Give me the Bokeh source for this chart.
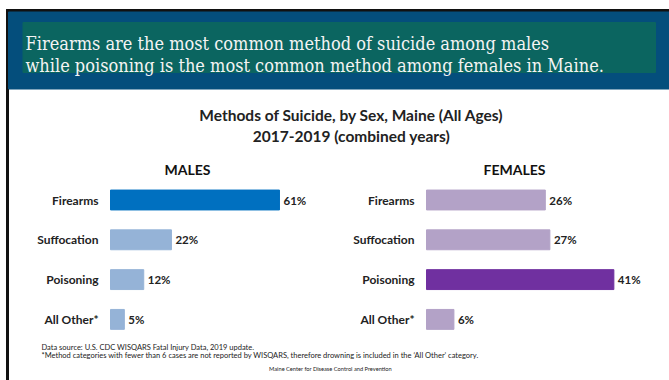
from bokeh.plotting import figure
from bokeh.models import Range1d, ColumnDataSource
from bokeh.core.properties import value
from bokeh.embed import file_html
from bokeh.resources import INLINE

# ---------------- data ----------------
categories = ["Firearms", "Suffocation", "Poisoning", "All Other*"]
male_pct = [61, 22, 12, 5]
female_pct = [26, 27, 41, 6]
male_colors = ["#0070C0", "#95B3D7", "#95B3D7", "#95B3D7"]
female_colors = ["#B3A2C7", "#B3A2C7", "#7030A0", "#B3A2C7"]

headline = [
    "Firearms are the most common method of suicide among males",
    "while poisoning is the most common method among females in Maine.",
]
title_lines = ["Methods of Suicide, by Sex, Maine (All Ages)", "2017-2019 (combined years)"]
panel_titles = ["MALES", "FEMALES"]
notes = [
    "Data source: U.S. CDC WISQARS Fatal Injury Data, 2019 update.",
    "*Method categories with fewer than 6 cases are not reported by WISQARS, therefore drowning is included in the \u2018All Other\u2019 category.",
]
credit = "Maine Center for Disease Control and Prevention"

# ---------------- layout (screen pixels of the page) ----------------
W, H = 669, 380
X0, Y0 = 0, 0
FONT = value("Lato")

p = figure(width=W, height=H, x_range=Range1d(X0, X0 + W), y_range=Range1d(Y0 + H, Y0),
           output_backend="svg", toolbar_location=None, min_border=0,
           x_axis_type=None, y_axis_type=None)
p.grid.visible = False
p.outline_line_color = None
p.background_fill_color = "white"
p.border_fill_color = "white"

# bar scales: where bars start on screen and pixels per percent
m_start, m_ppp = 110, 2.77
f_start, f_ppp = 426, 4.57
p.extra_x_ranges = {
    "m": Range1d(-(m_start - X0) / m_ppp, -(m_start - X0) / m_ppp + W / m_ppp),
    "f": Range1d(-(f_start - X0) / f_ppp, -(f_start - X0) / f_ppp + W / f_ppp),
}
row_first, row_step = 199.5, 39.8
cy_top = -(row_first - Y0) / row_step
p.extra_y_ranges = {"cat": Range1d(cy_top + H / row_step, cy_top)}

# header band
p.quad(left=6, right=669, top=9, bottom=11.5, color="#111111")
p.quad(left=6, right=8, top=9, bottom=380, color="#111111")
p.quad(left=8, right=669, top=11.5, bottom=88.5, color="#044E7C")
p.quad(left=22.5, right=655, top=22, bottom=72, color="#0B6560")
p.text(x=[25, 25], y=[43, 65], text=headline, text_font=value("DejaVu Serif Condensed"),
       text_font_size="18px", text_color="#F4F4F4", text_baseline="alphabetic")

# chart title
p.text(x=[351, 351], y=[114, 135], text=title_lines, text_font=FONT, text_font_style="bold",
       text_font_size="15.5px", text_color="#222222", text_align="center", text_baseline="alphabetic")
p.text(x=[187, 514], y=[169, 169], text=panel_titles, text_font=FONT, text_font_style="bold",
       text_font_size="14px", text_color="#111111", text_align="center", text_baseline="alphabetic")

idx = list(range(len(categories)))
for vals, cols, rng in ((male_pct, male_colors, "m"), (female_pct, female_colors, "f")):
    src = ColumnDataSource(dict(idx=idx, v=vals, c=cols, cat=categories,
                                lbl=[f"{v}%" for v in vals]))
    p.hbar(y="idx", left=0, right="v", height=0.5, color="c", source=src,
           x_range_name=rng, y_range_name="cat")
    p.text(x=0, y="idx", text="cat", source=src, x_offset=-12, text_align="right",
           text_baseline="middle", text_font=FONT, text_font_style="bold",
           text_font_size="12px", text_color="#222222", x_range_name=rng, y_range_name="cat")
    p.text(x="v", y="idx", text="lbl", source=src, x_offset=4, text_align="left",
           text_baseline="middle", text_font=FONT, text_font_style="bold",
           text_font_size="11.5px", text_color="#222222", x_range_name=rng, y_range_name="cat")

# footnotes
p.text(x=[41, 41], y=[347, 354.5], text=notes, text_font=FONT, text_font_size="7.5px",
       text_color="#222222", text_baseline="middle")
p.text(x=[330], y=[368], text=[credit], text_font=FONT, text_font_size="5.7px",
       text_color="#222222", text_baseline="middle", text_align="center")

open("out.html", "w").write(file_html(p, INLINE))
